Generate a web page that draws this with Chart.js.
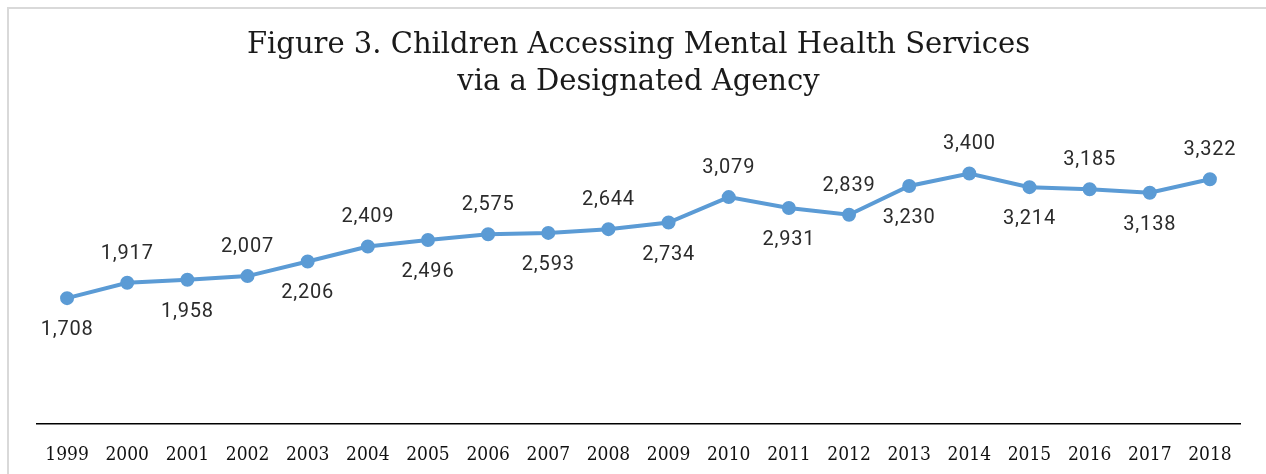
<!DOCTYPE html>
<html>
<head>
<meta charset="utf-8">
<script src="https://cdn.jsdelivr.net/npm/chart.js@4/dist/chart.umd.min.js"></script>
<style>
  body { margin: 0; background: #fff; }
  #frame { position: absolute; left: 7px; top: 7px; width: 1300px; height: 520px; border: 2px solid #d9d9d9; }
  #wrap { position: absolute; left: 0; top: 0; width: 1266px; height: 474px; }
</style>
</head>
<body>
<div id="frame"></div>
<div id="wrap"><canvas id="myChart"></canvas></div>
<script>
const years = ["1999","2000","2001","2002","2003","2004","2005","2006","2007","2008",
               "2009","2010","2011","2012","2013","2014","2015","2016","2017","2018"];
const children = [1708, 1917, 1958, 2007, 2206, 2409, 2496, 2575, 2593, 2644,
                  2734, 3079, 2931, 2839, 3230, 3400, 3214, 3185, 3138, 3322];
const titleLines = ["Figure 3. Children Accessing Mental Health Services", "via a Designated Agency"];

const canvas = document.getElementById("myChart");
const ctx = canvas.getContext('2d');

// value labels, alternating below / above the points
const valueLabels = {
  id: "valueLabels",
  afterDatasetsDraw(chart) {
    const c = chart.ctx;
    const meta = chart.getDatasetMeta(0);
    c.save();
    c.font = "20px Roboto";
    c.letterSpacing = "0.8px";
    c.fillStyle = "#2b2b2b";
    c.textAlign = "center";
    c.textBaseline = "middle";
    meta.data.forEach(function(pt, i) {
      const txt = children[i].toLocaleString("en-US");
      const dy = (i % 2 === 0) ? 32 : -29;
      c.fillText(txt, pt.x, pt.y + dy);
    });
    c.restore();
  }
};

const myChart = new Chart(ctx, {
  type: "line",
  data: {
    labels: years,
    datasets: [{
      label: "Children",
      data: children,
      borderColor: "#5b9bd5",
      backgroundColor: "#5b9bd5",
      borderWidth: 4,
      pointRadius: 5,
      pointHoverRadius: 5,
      tension: 0,
      fill: false
    }]
  },
  options: {
    responsive: true,
    maintainAspectRatio: false,
    animation: false,
    layout: { padding: { left: 37, right: 26, top: 0, bottom: 0 } },
    plugins: {
      legend: { display: false },
      tooltip: { enabled: false },
      title: {
        display: true,
        text: titleLines,
        color: "#1a1a1a",
        font: { family: "DejaVu Serif", size: 29, weight: "normal", lineHeight: 1.28 },
        padding: { top: 27, bottom: 28 }
      }
    },
    scales: {
      x: {
        offset: true,
        grid: { display: false },
        border: { display: true, color: "#000000", width: 1.5 },
        afterFit: function(scale) { scale.height = 50; },
        ticks: {
          color: "#111111",
          padding: 12,
          maxRotation: 0,
          autoSkip: false,
          font: { family: "'DejaVu Serif Condensed', 'DejaVu Serif'", size: 19 }
        }
      },
      y: {
        display: false,
        min: 0,
        max: 4000
      }
    }
  },
  plugins: [valueLabels]
});
</script>
</body>
</html>
